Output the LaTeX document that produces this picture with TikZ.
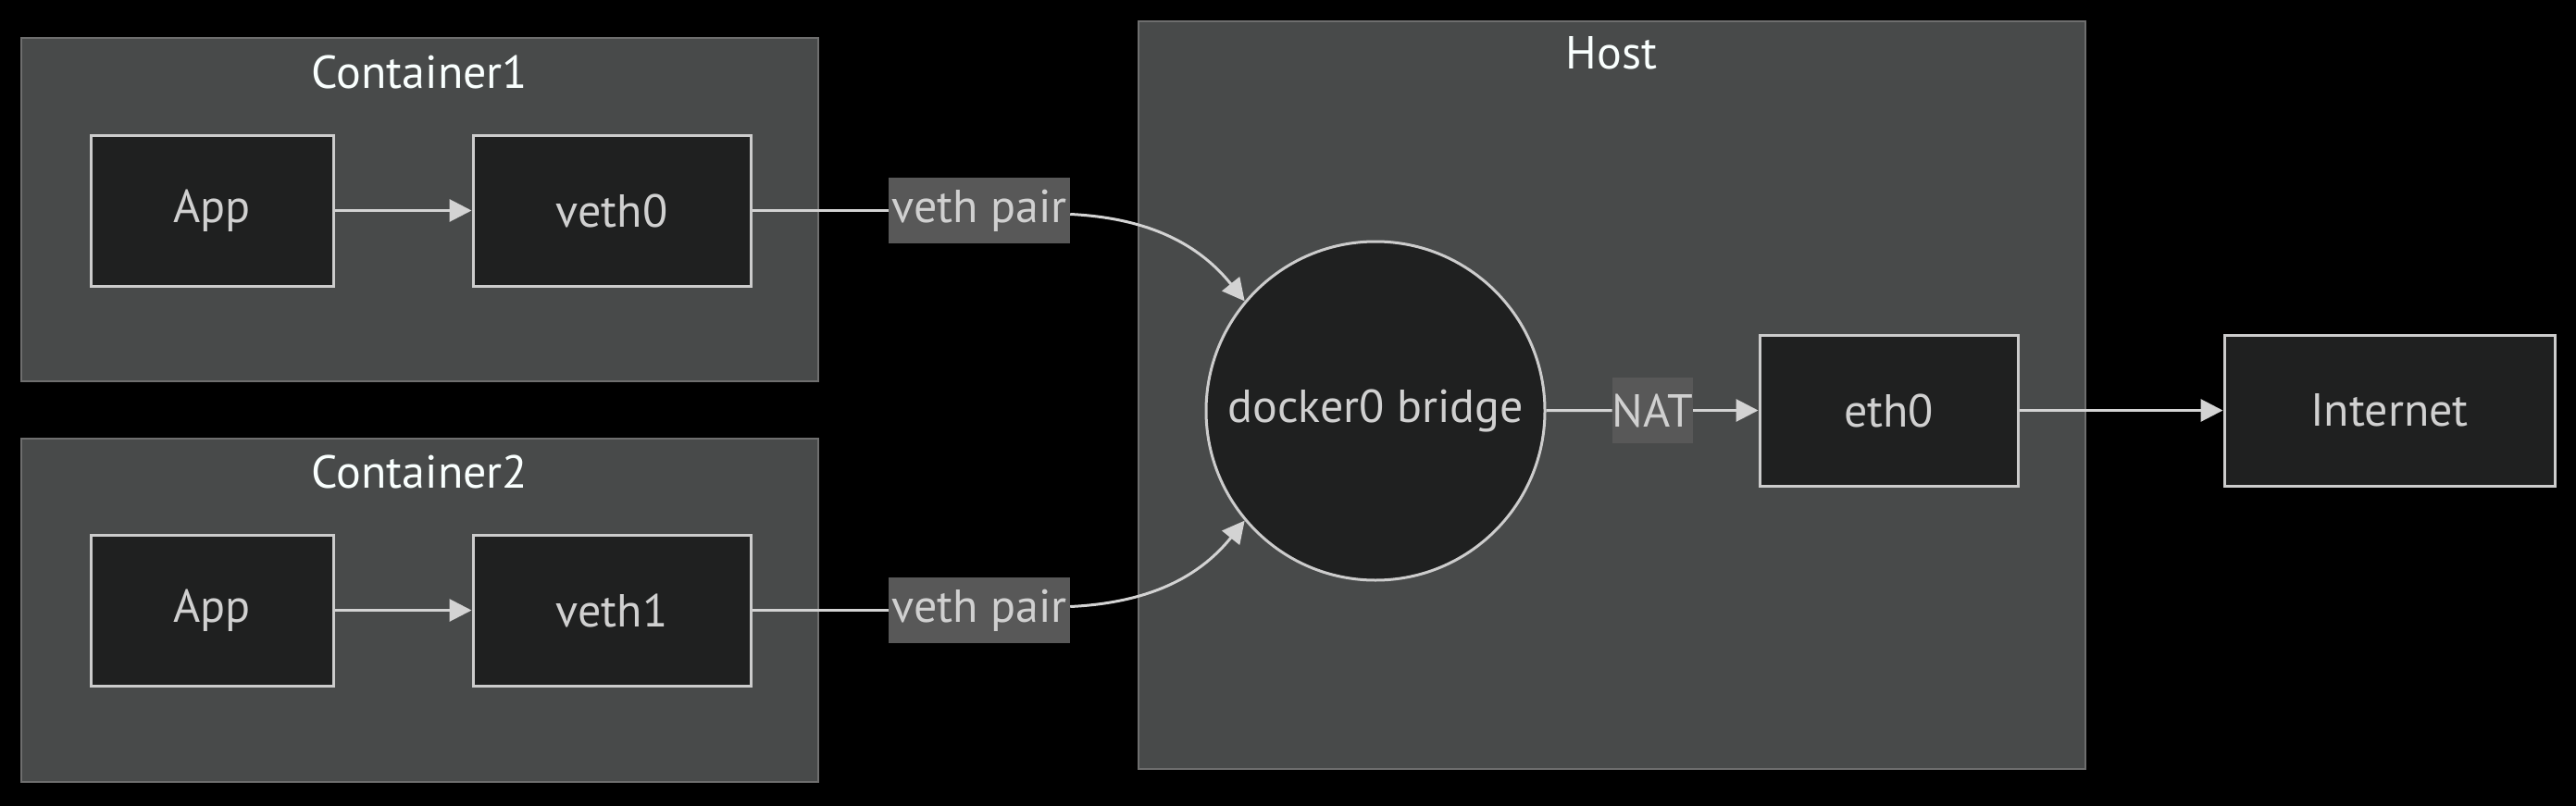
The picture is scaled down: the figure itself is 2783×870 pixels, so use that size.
\documentclass[tikz,border=0pt]{standalone}
\usepackage{fontspec}
\setmainfont{PT Sans}
\usetikzlibrary{arrows.meta}
\definecolor{clfill}{HTML}{484A4A}
\definecolor{clborder}{HTML}{6E6E6E}
\definecolor{nfill}{HTML}{1F2020}
\definecolor{nborder}{HTML}{CCCCCC}
\definecolor{ntext}{HTML}{D0D0D0}
\definecolor{ttext}{HTML}{F9FFFE}
\definecolor{lblbg}{HTML}{585858}
\definecolor{edgec}{HTML}{D3D3D3}
\tikzset{
  txt/.style={font=\fontsize{50}{60}\selectfont},
  box/.style={txt, draw=nborder, fill=nfill, line width=3pt, text=ntext, inner sep=0pt},
  circ/.style={txt, circle, draw=nborder, fill=nfill, line width=3pt, text=ntext, inner sep=0pt, minimum size=366pt},
  cluster/.style={draw=clborder, fill=clfill, line width=2.5pt},
  ctitle/.style={txt, text=ttext, inner sep=0pt},
  elabel/.style={txt, fill=lblbg, text=ntext, inner sep=0pt, minimum height=71pt},
  edge/.style={draw=edgec, line width=3pt},
  arr/.style={edge, -{Triangle[length=24pt,width=24pt]}}
}
\begin{document}
\begin{tikzpicture}[x=1pt,y=-1pt]
\useasboundingbox (0,0) rectangle (2783,870);
\fill[black] (-10,-10) rectangle (2793,880);
% clusters
\draw[cluster] (23,41) rectangle (884,412);
\draw[cluster] (23,474) rectangle (884,845);
\draw[cluster] (1230,23) rectangle (2253,831);
\node[ctitle] (t1) at (453.5,78) {Container1};
\node[ctitle] (t2) at (453.5,510) {Container2};
\node[ctitle] (t3) at (1741,57) {Host};
% nodes
\node[box, minimum width=262pt, minimum height=163pt] (app1) at (229,227.5) {App};
\node[box, minimum width=300pt, minimum height=163pt] (veth0) at (661,227.5) {veth0};
\node[box, minimum width=262pt, minimum height=163pt] (app2) at (229,659.5) {App};
\node[box, minimum width=300pt, minimum height=163pt] (veth1) at (661,659.5) {veth1};
\node[circ] (bridge) at (1486,444) {docker0 bridge};
\node[box, minimum width=279pt, minimum height=163pt] (eth0) at (2040.5,443.5) {eth0};
\node[box, minimum width=357pt, minimum height=163pt] (inet) at (2581.5,443.5) {Internet};
% edge labels
\node[elabel, minimum width=196pt] (vp1) at (1058,227.5) {veth pair};
\node[elabel, minimum width=196pt] (vp2) at (1058,659.5) {veth pair};
\node[elabel, minimum width=81pt] (nat) at (1785.5,443.5) {NAT};
% edges
\draw[arr] (app1) -- (veth0);
\draw[arr] (app2) -- (veth1);
\draw[edge] (veth0) -- (vp1);
\draw[edge] (veth1) -- (vp2);
\draw[arr] (vp1.east) ++(0,4) coordinate (vp1o) (vp1o) .. controls (1250,236) and (1300,270) .. (bridge.140);
\draw[arr] (vp2.east) ++(0,-4) coordinate (vp2o) (vp2o) .. controls (1250,651) and (1300,618) .. (bridge.220);
\draw[edge] (bridge) -- (nat);
\draw[arr] (nat) -- (eth0);
\draw[arr] (eth0) -- (inet);
\end{tikzpicture}
\end{document}
